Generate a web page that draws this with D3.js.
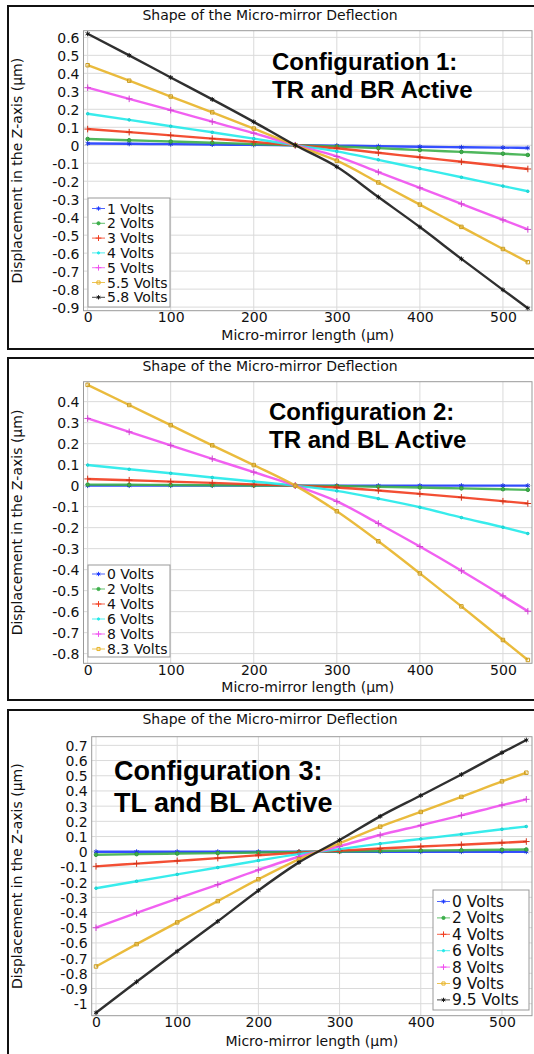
<!DOCTYPE html>
<html>
<head>
<meta charset="utf-8">
<script src="https://cdn.jsdelivr.net/npm/d3@7"></script>
<style>
  body { margin: 0; background: #fff; }
  svg { display: block; }
  text { font-family: "DejaVu Sans", sans-serif; fill: #111; }
  .config { font-family: "Liberation Sans", Arial, sans-serif; font-weight: bold; fill: #000; }
</style>
</head>
<body>
<svg id="chart" width="534" height="1054"></svg>
<script>
// sample positions along the mirror (µm)
const xPos = [0, 50, 100, 150, 200, 250, 300, 350, 400, 450, 500, 530];
const xTicks = [0, 100, 200, 300, 400, 500];

// configuration 1: TR and BR active
const cfg1Labels = ['1 Volts', '2 Volts', '3 Volts', '4 Volts', '5 Volts', '5.5 Volts', '5.8 Volts'];
const cfg1V1 = [0.01, 0.008, 0.006, 0.004, 0.002, 0, -0.002, -0.005, -0.008, -0.011, -0.013, -0.015];
const cfg1V2 = [0.035, 0.028, 0.021, 0.014, 0.007, 0, -0.007, -0.016, -0.027, -0.037, -0.047, -0.054];
const cfg1V3 = [0.09, 0.073, 0.055, 0.037, 0.019, 0, -0.017, -0.042, -0.067, -0.092, -0.117, -0.132];
const cfg1V4 = [0.175, 0.141, 0.106, 0.072, 0.037, 0, -0.034, -0.081, -0.13, -0.178, -0.227, -0.256];
const cfg1V5 = [0.32, 0.258, 0.195, 0.131, 0.067, 0, -0.062, -0.149, -0.237, -0.326, -0.415, -0.468];
const cfg1V55 = [0.445, 0.359, 0.271, 0.183, 0.093, 0, -0.086, -0.207, -0.33, -0.454, -0.577, -0.65];
const cfg1V58 = [0.62, 0.5, 0.377, 0.255, 0.13, 0, -0.12, -0.288, -0.455, -0.632, -0.804, -0.906];
const cfg1Ticks = [0.6, 0.5, 0.4, 0.3, 0.2, 0.1, 0, -0.1, -0.2, -0.3, -0.4, -0.5, -0.6, -0.7, -0.8, -0.9];

// configuration 2: TR and BL active
const cfg2Labels = ['0 Volts', '2 Volts', '4 Volts', '6 Volts', '8 Volts', '8.3 Volts'];
const cfg2V0 = [0, 0, 0, 0, 0, 0, 0, 0, 0, 0, 0, 0];
const cfg2V2 = [0.005, 0.004, 0.003, 0.002, 0.001, 0, -0.002, -0.005, -0.009, -0.013, -0.017, -0.02];
const cfg2V4 = [0.032, 0.026, 0.019, 0.013, 0.006, 0, -0.009, -0.023, -0.039, -0.056, -0.074, -0.085];
const cfg2V6 = [0.098, 0.078, 0.059, 0.039, 0.02, 0, -0.025, -0.062, -0.103, -0.152, -0.198, -0.228];
const cfg2V8 = [0.32, 0.256, 0.192, 0.128, 0.064, 0, -0.075, -0.18, -0.29, -0.405, -0.525, -0.598];
const cfg2V83 = [0.48, 0.384, 0.288, 0.192, 0.098, 0, -0.122, -0.265, -0.418, -0.575, -0.735, -0.83];
const cfg2Ticks = [0.4, 0.3, 0.2, 0.1, 0, -0.1, -0.2, -0.3, -0.4, -0.5, -0.6, -0.7, -0.8];

// configuration 3: TL and BL active
const cfg3Labels = ['0 Volts', '2 Volts', '4 Volts', '6 Volts', '8 Volts', '9 Volts', '9.5 Volts'];
const cfg3V0 = [0, 0, 0, 0, 0, 0, 0, 0, 0, 0, 0, 0];
const cfg3V2 = [-0.02, -0.016, -0.012, -0.009, -0.005, -0.001, 0.002, 0.005, 0.008, 0.01, 0.013, 0.015];
const cfg3V4 = [-0.096, -0.078, -0.06, -0.042, -0.023, -0.006, 0.007, 0.021, 0.034, 0.046, 0.059, 0.067];
const cfg3V6 = [-0.24, -0.194, -0.149, -0.104, -0.058, -0.016, 0.017, 0.053, 0.084, 0.115, 0.148, 0.166];
const cfg3V8 = [-0.5, -0.403, -0.308, -0.216, -0.12, -0.033, 0.036, 0.11, 0.174, 0.239, 0.307, 0.345];
const cfg3V9 = [-0.755, -0.608, -0.465, -0.325, -0.181, -0.05, 0.055, 0.165, 0.262, 0.361, 0.463, 0.52];
const cfg3V95 = [-1.06, -0.856, -0.655, -0.458, -0.255, -0.07, 0.077, 0.233, 0.37, 0.508, 0.652, 0.735];
const cfg3Ticks = [0.7, 0.6, 0.5, 0.4, 0.3, 0.2, 0.1, 0, -0.1, -0.2, -0.3, -0.4, -0.5, -0.6, -0.7, -0.8, -0.9, -1];

// line colours and markers, in series order
const colors1 = ['#1f3cff', '#3caf4a', '#f23c1e', '#22eaea', '#f050f0', '#e8b428', '#1a1a1a'];
const colors2 = ['#1f3cff', '#3caf4a', '#f23c1e', '#22eaea', '#f050f0', '#e8b428'];
const symbols = [d3.symbolAsterisk, d3.symbolCircle, d3.symbolPlus, d3.symbolCircle, d3.symbolPlus, d3.symbolSquare, d3.symbolAsterisk];
const symSizes = [16, 10, 16, 5, 16, 12, 16];

const svg = d3.select('#chart');

// outer frames round each panel
[[8, 6, 540, 343], [8, 358, 540, 342], [8, 710, 540, 360]].forEach(function(f){
  svg.append('rect')
    .attr('x', f[0]).attr('y', f[1]).attr('width', f[2]).attr('height', f[3])
    .attr('fill', 'none').attr('stroke', '#111').attr('stroke-width', 2);
});

function drawPanel(p) {
  let x = d3.scaleLinear().domain(p.xDomain).range([p.left, p.right]);
  let y = d3.scaleLinear().domain(p.yDomain).range([p.bottom, p.top]);
  let g = svg.append('g');

  // grid
  g.selectAll('.vg').data(xTicks).enter().append('line')
    .attr('x1', d => x(d)).attr('x2', d => x(d))
    .attr('y1', p.top).attr('y2', p.bottom)
    .attr('stroke', '#dadada').attr('stroke-width', 1);
  g.selectAll('.hg').data(p.ticks).enter().append('line')
    .attr('x1', p.left).attr('x2', p.right)
    .attr('y1', d => y(d)).attr('y2', d => y(d))
    .attr('stroke', '#dadada').attr('stroke-width', 1);

  g.append('rect')
    .attr('x', p.left).attr('y', p.top)
    .attr('width', p.right - p.left).attr('height', p.bottom - p.top)
    .attr('fill', 'none').attr('stroke', '#999').attr('stroke-width', 1);

  // axes
  let yAxis = d3.axisLeft(y).tickValues(p.ticks).tickSize(0).tickPadding(4)
    .tickFormat(d => String(+d.toFixed(1)));
  let ya = g.append('g').attr('transform', 'translate(' + p.left + ',0)').call(yAxis);
  ya.select('.domain').remove();
  ya.selectAll('text').style('font-size', '14px').attr('dy', '0.36em');

  let xAxis = d3.axisBottom(x).tickValues(xTicks).tickSize(0).tickPadding(2);
  let xa = g.append('g').attr('transform', 'translate(0,' + p.bottom + ')').call(xAxis);
  xa.select('.domain').remove();
  xa.selectAll('text').style('font-size', '14px').attr('dy', '0.68em');

  // titles
  g.append('text').attr('x', 270).attr('y', p.titleY)
    .attr('text-anchor', 'middle').style('font-size', '14px')
    .text('Shape of the Micro-mirror Deflection');
  g.append('text').attr('x', (p.left + p.right) / 2).attr('y', p.xLabelY)
    .attr('text-anchor', 'middle').style('font-size', '14px')
    .text('Micro-mirror length (µm)');
  g.append('text')
    .attr('transform', 'translate(22,' + ((p.top + p.bottom) / 2) + ') rotate(-90)')
    .attr('text-anchor', 'middle').style('font-size', '14px')
    .text('Displacement in the Z-axis (µm)');

  // series
  let line = d3.line().x((d, i) => x(xPos[i])).y(d => y(d)).curve(d3.curveMonotoneX);
  let clip = 'clip' + p.id;
  svg.append('clipPath').attr('id', clip).append('rect')
    .attr('x', p.left).attr('y', p.top).attr('width', p.right - p.left).attr('height', p.bottom - p.top);
  let plot = g.append('g').attr('clip-path', 'url(#' + clip + ')');

  p.series.forEach(function(s, k){
    plot.append('path').datum(s)
      .attr('d', line).attr('fill', 'none')
      .attr('stroke', p.colors[k]).attr('stroke-width', 2.4).attr('stroke-opacity', 0.9);
    plot.selectAll('.m' + k).data(s).enter().append('path')
      .attr('transform', (d, i) => 'translate(' + x(xPos[i]) + ',' + y(d) + ')')
      .attr('d', d3.symbol().type(symbols[k]).size(symSizes[k]))
      .attr('fill', k === 1 || k === 3 ? p.colors[k] : 'none')
      .attr('stroke', d3.color(p.colors[k]).darker(0.4)).attr('stroke-width', 1);
  });

  // configuration caption
  p.caption.forEach(function(t, i){
    g.append('text').attr('class', 'config')
      .attr('x', p.capX).attr('y', p.capY[i])
      .style('font-size', p.capSize + 'px').text(t);
  });

  // legend
  let L = p.legend;
  g.append('rect').attr('x', L.x).attr('y', L.y).attr('width', L.w).attr('height', L.h)
    .attr('fill', '#fff').attr('stroke', '#999').attr('stroke-width', 1);
  let rows = g.selectAll('.lg').data(p.labels).enter().append('g')
    .attr('transform', (d, i) => 'translate(' + (L.x + 4) + ',' + (L.y + L.first + i * L.step) + ')');
  rows.append('line').attr('x1', 0).attr('x2', 13).attr('y1', 0).attr('y2', 0)
    .attr('stroke', (d, i) => p.colors[i]).attr('stroke-width', 1).attr('stroke-opacity', 0.8);
  rows.append('path')
    .attr('transform', 'translate(6.5,0)')
    .attr('d', (d, i) => d3.symbol().type(symbols[i]).size(symSizes[i] * 0.8)())
    .attr('fill', (d, i) => (i === 1 || i === 3) ? p.colors[i] : 'none')
    .attr('stroke', (d, i) => p.colors[i]).attr('stroke-width', 1);
  rows.append('text').attr('x', 15).attr('dy', '0.36em')
    .style('font-size', L.font + 'px').text(d => d);
}

drawPanel({
  id: 1, left: 83.5, right: 532, top: 30.7, bottom: 310.7,
  xDomain: [-5, 535], yDomain: [-0.92, 0.637], ticks: cfg1Ticks,
  titleY: 20, xLabelY: 339.5,
  series: [cfg1V1, cfg1V2, cfg1V3, cfg1V4, cfg1V5, cfg1V55, cfg1V58],
  labels: cfg1Labels, colors: colors1,
  caption: ['Configuration 1:', 'TR and BR Active'], capX: 272, capY: [70, 98], capSize: 24,
  legend: { x: 88, y: 198, w: 82, h: 109, first: 10.5, step: 14.8, font: 14 }
});

drawPanel({
  id: 2, left: 83.5, right: 532, top: 381.7, bottom: 663.3,
  xDomain: [-5, 535], yDomain: [-0.846, 0.495], ticks: cfg2Ticks,
  titleY: 371, xLabelY: 692,
  series: [cfg2V0, cfg2V2, cfg2V4, cfg2V6, cfg2V8, cfg2V83],
  labels: cfg2Labels, colors: colors2,
  caption: ['Configuration 2:', 'TR and BL Active'], capX: 269, capY: [420, 448], capSize: 24,
  legend: { x: 88, y: 565, w: 82, h: 92, first: 9, step: 15, font: 14 }
});

drawPanel({
  id: 3, left: 91.7, right: 532, top: 736.7, bottom: 1015.7,
  xDomain: [-5.3, 537], yDomain: [-1.079, 0.757], ticks: cfg3Ticks,
  titleY: 724, xLabelY: 1046,
  series: [cfg3V0, cfg3V2, cfg3V4, cfg3V6, cfg3V8, cfg3V9, cfg3V95],
  labels: cfg3Labels, colors: colors1,
  caption: ['Configuration 3:', 'TL and BL Active'], capX: 114, capY: [780, 812], capSize: 27,
  legend: { x: 433, y: 890, w: 96, h: 120, first: 11.5, step: 16.4, font: 15.5 }
});
</script>
</body>
</html>
